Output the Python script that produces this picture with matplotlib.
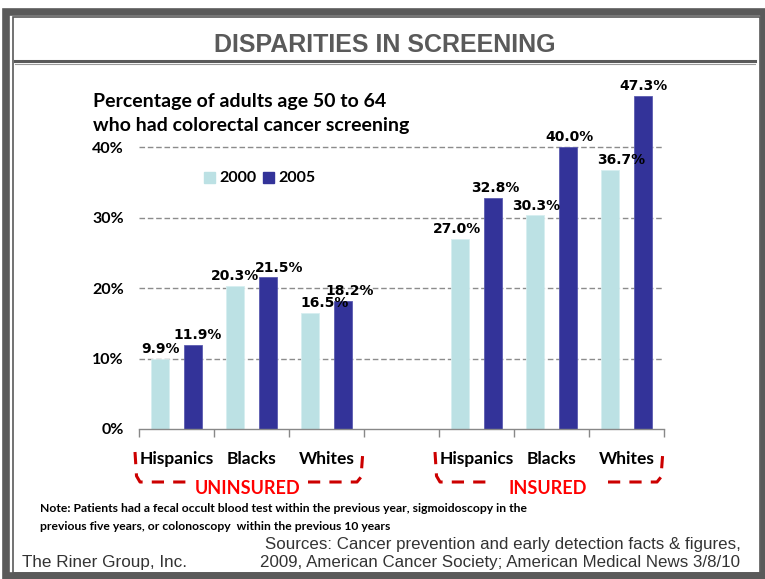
import matplotlib
matplotlib.use("Agg")
import matplotlib.pyplot as plt
from matplotlib.lines import Line2D
from matplotlib.patches import Rectangle
import numpy as np

# ---- data ----
groups = ["Hispanics", "Blacks", "Whites"]
years = ["2000", "2005"]
uninsured_2000 = [9.9, 20.3, 16.5]
uninsured_2005 = [11.9, 21.5, 18.2]
insured_2000 = [27.0, 30.3, 36.7]
insured_2005 = [32.8, 40.0, 47.3]
y_ticks = [0, 10, 20, 30, 40]
y_tick_labels = ["0%", "10%", "20%", "30%", "40%"]

# horizontal nudges (pixels) so neighbouring value labels do not collide
nudge_u2000 = [0, 0, 15]
nudge_u2005 = [5, 11, 7]
nudge_i2000 = [-3, 1, 11]
nudge_i2005 = [2, 1, 0]

LIGHT = "#BCE1E4"
DARK = "#333399"
GRAY = "#5a5a5a"
RED_LINE = "#CC0000"
RED_TEXT = "#FF0000"
CAL = ["Lato", "DejaVu Sans"]
NARROW = ["Liberation Sans", "DejaVu Sans"]

W, H = 765, 579
fig = plt.figure(figsize=(W / 100, H / 100), dpi=100)
fig.patch.set_facecolor("white")


def fx(px):
    return px / W


def fy(py):
    return 1 - py / H


# ---- frame ----
fig.add_artist(Rectangle((fx(6.5), fy(576)), fx(757.5), (576 - 12) / H,
                         transform=fig.transFigure, fill=False,
                         edgecolor=GRAY, lw=5.5))
fig.add_artist(Rectangle((fx(12.5), fy(572.5)), fx(747.5), (572.5 - 17) / H,
                         transform=fig.transFigure, fill=False,
                         edgecolor=GRAY, lw=1.2))

# title and its double rule
fig.text(fx(385), fy(45), "DISPARITIES IN SCREENING", ha="center", va="center",
         fontsize=18, fontweight="bold", color=GRAY, family=NARROW)
fig.add_artist(Line2D([fx(15), fx(755)], [fy(60.5), fy(60.5)],
                      transform=fig.transFigure, color=GRAY, lw=2.2))
fig.add_artist(Line2D([fx(15), fx(755)], [fy(63.5), fy(63.5)],
                      transform=fig.transFigure, color="#9a9a9a", lw=0.8))

# ---- axes ----
ymax = 48
ax = fig.add_axes([fx(139), (H - 429) / H, 525 / W, (ymax * 7.05) / H])
ax.set_xlim(-0.5, 6.5)
ax.set_ylim(0, ymax)

uninsured_x = np.arange(3)
insured_x = np.arange(3) + 4
off, bw = 0.22, 0.23

series = [
    (uninsured_x - off, uninsured_2000, nudge_u2000, LIGHT, "#d6eef0"),
    (uninsured_x + off, uninsured_2005, nudge_u2005, DARK, "#5c5cb0"),
    (insured_x - off, insured_2000, nudge_i2000, LIGHT, "#d6eef0"),
    (insured_x + off, insured_2005, nudge_i2005, DARK, "#5c5cb0"),
]
for xs, vals, nudges, col, edge in series:
    rects = ax.bar(xs, vals, width=bw, color=col, edgecolor=edge, lw=0.6)
    for r, v, dx in zip(rects, vals, nudges):
        ax.annotate(f"{v:.1f}%", (r.get_x() + r.get_width() / 2, v),
                    xytext=(dx * 0.72, 2), textcoords="offset points",
                    ha="center", va="bottom", fontsize=10,
                    fontweight="bold", color="black", family="DejaVu Sans")

for v in y_ticks[1:]:
    ax.axhline(v, color="#8c8c8c", lw=1, ls=(0, (4, 2)), zorder=0)

for s in ["top", "right", "left"]:
    ax.spines[s].set_visible(False)
ax.spines["bottom"].set_color("#888888")
ax.spines["bottom"].set_linewidth(1)

ax.set_yticks(y_ticks)
ax.set_yticklabels(y_tick_labels, fontsize=11.5, fontweight="bold", family=CAL)
ax.tick_params(axis="y", length=0, pad=11)

ax.set_xticks(list(uninsured_x) + list(insured_x))
ax.set_xticklabels(groups + groups, fontsize=12.5, fontweight="bold", family=CAL)
ax.tick_params(axis="x", which="major", length=0, pad=16)
ax.set_xticks(np.arange(-0.5, 7, 1), minor=True)
ax.tick_params(axis="x", which="minor", length=6, color="#888888", width=1)

# subtitle
fig.text(fx(93), fy(101), "Percentage of adults age 50 to 64", ha="left",
         va="center", fontsize=14, fontweight="bold", family=CAL)
fig.text(fx(93), fy(125), "who had colorectal cancer screening", ha="left",
         va="center", fontsize=14, fontweight="bold", family=CAL)

# legend
for px, col, lab in [(204, LIGHT, years[0]), (263, DARK, years[1])]:
    fig.add_artist(Rectangle((fx(px), fy(183)), 11 / W, 11 / H,
                             transform=fig.transFigure, color=col))
    fig.text(fx(px + 15), fy(177.5), lab, ha="left", va="center",
             fontsize=11.5, fontweight="bold", family=CAL)

# dashed brackets under the two groups
for x0, label in [(0, "UNINSURED"), (300, "INSURED")]:
    left = [(135 + x0, 452), (136.5 + x0, 476), (140 + x0, 482), (186 + x0, 482)]
    right = [(308 + x0, 482), (357 + x0, 482), (361 + x0, 477), (363 + x0, 450)]
    for pts in (left, right):
        xs_, ys_ = zip(*pts)
        fig.add_artist(Line2D([fx(p) for p in xs_], [fy(p) for p in ys_],
                              transform=fig.transFigure, color=RED_LINE,
                              lw=2.2, ls=(0, (4, 3))))
    fig.text(fx(248 + x0), fy(488), label, ha="center", va="center",
             fontsize=13, fontweight="bold", color=RED_TEXT, family=CAL)

# footnotes
fig.text(fx(40), fy(508), "Note: Patients had a fecal occult blood test within the "
         "previous year, sigmoidoscopy in the", ha="left", va="center",
         fontsize=8.7, fontweight="bold", family=CAL)
fig.text(fx(40), fy(527), "previous five years, or colonoscopy  within the previous 10 years",
         ha="left", va="center", fontsize=8.7, fontweight="bold", family=CAL)
fig.text(fx(503), fy(544), "Sources: Cancer prevention and early detection facts & figures,",
         ha="center", va="center", fontsize=12.2, color="#333333", family=NARROW)
fig.text(fx(500), fy(563), "2009, American Cancer Society; American Medical News 3/8/10",
         ha="center", va="center", fontsize=12.2, color="#333333", family=NARROW)
fig.text(fx(22), fy(563), "The Riner Group, Inc.", ha="left", va="center",
         fontsize=12.3, color="#333333", family=NARROW)

fig.savefig("out.png", dpi=100)
